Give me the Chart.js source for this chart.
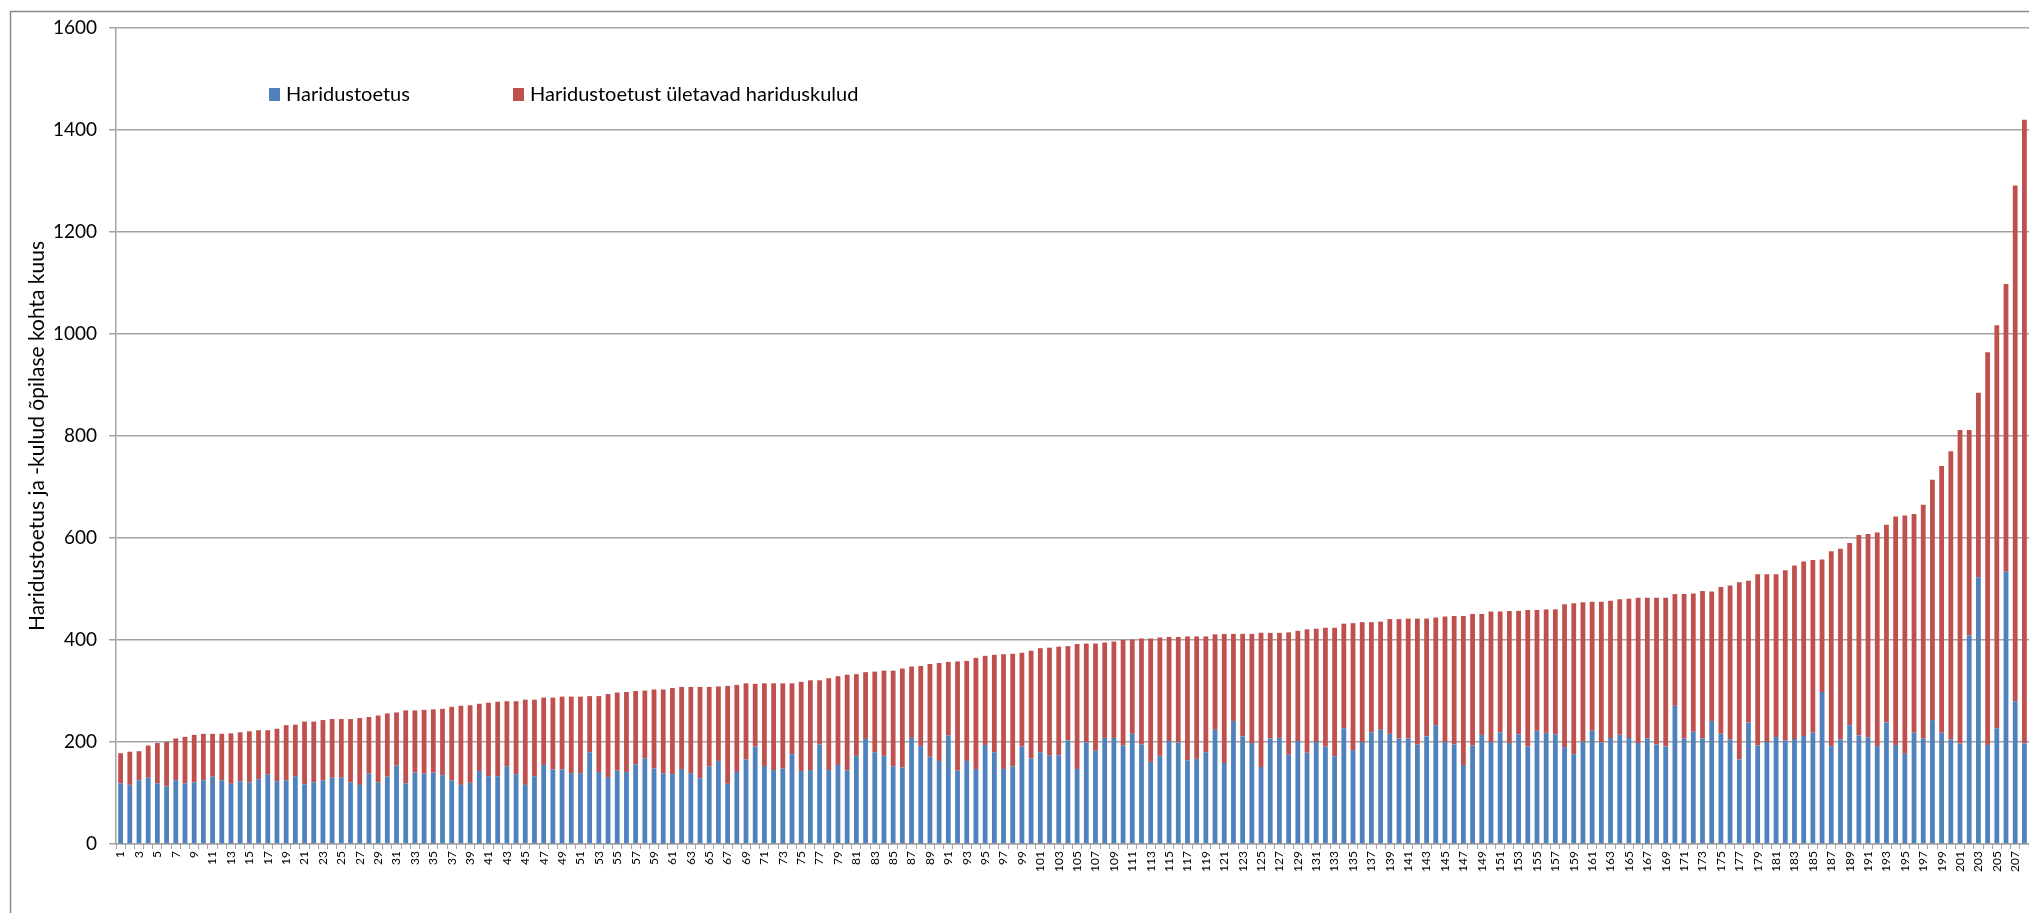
<!DOCTYPE html>
<html>
<head>
<meta charset="utf-8">
<script src="https://cdn.jsdelivr.net/npm/chart.js@4.4.1/dist/chart.umd.min.js"></script>
<style>
  html, body { margin: 0; padding: 0; background: #fff; overflow: hidden; }
  #wrap { width: 2029px; height: 913px; }
</style>
</head>
<body>
<div id="wrap"><canvas id="canvasChart" width="2029" height="913"></canvas></div>
<script>
var canvasChartId = "canvasChart";

var categories = ["1","2","3","4","5","6","7","8","9","10","11","12","13","14","15","16","17","18","19","20",
  "21","22","23","24","25","26","27","28","29","30","31","32","33","34","35","36","37","38","39","40",
  "41","42","43","44","45","46","47","48","49","50","51","52","53","54","55","56","57","58","59","60",
  "61","62","63","64","65","66","67","68","69","70","71","72","73","74","75","76","77","78","79","80",
  "81","82","83","84","85","86","87","88","89","90","91","92","93","94","95","96","97","98","99","100",
  "101","102","103","104","105","106","107","108","109","110","111","112","113","114","115","116","117","118","119","120",
  "121","122","123","124","125","126","127","128","129","130","131","132","133","134","135","136","137","138","139","140",
  "141","142","143","144","145","146","147","148","149","150","151","152","153","154","155","156","157","158","159","160",
  "161","162","163","164","165","166","167","168","169","170","171","172","173","174","175","176","177","178","179","180",
  "181","182","183","184","185","186","187","188","189","190","191","192","193","194","195","196","197","198","199","200",
  "201","202","203","204","205","206","207","208"];

// Haridustoetus (blue)
var haridustoetus = [119,116,125,130,119,113,125,119,121,125,132,125,118,123,121,127,136,123,125,133,
  117,121,125,130,130,121,116,138,121,132,154,119,140,138,140,135,125,116,120,143,
  133,133,152,137,116,133,155,146,146,139,139,180,141,131,144,141,156,168,148,138,
  137,147,139,129,152,163,118,141,166,191,153,145,148,176,143,145,195,145,155,144,
  173,206,180,173,152,150,208,192,171,163,213,144,163,147,194,180,147,152,191,168,
  180,174,174,203,147,199,183,208,208,193,216,195,161,173,202,199,164,167,180,224,
  159,241,211,198,151,207,208,175,202,179,200,191,172,227,184,200,219,224,216,207,
  207,195,211,233,200,195,155,193,214,200,219,198,215,191,222,218,215,190,176,201,
  222,199,208,214,208,198,207,195,191,271,207,220,207,241,216,205,166,238,193,200,
  210,203,206,212,218,298,192,205,233,213,209,192,238,194,177,218,207,243,218,205,
  197,409,523,194,227,534,280,197];

// Haridustoetust ületavad hariduskulud (red)
var yletavadKulud = [59,65,57,63,79,87,82,91,93,91,84,91,99,96,100,96,87,103,108,101,
  123,119,118,115,115,124,131,111,131,124,104,143,122,125,124,130,144,155,152,132,
  144,146,128,143,167,150,132,141,143,150,150,110,149,163,153,157,144,133,155,165,
  169,161,169,179,156,146,192,171,149,123,162,170,167,139,175,176,126,180,174,188,
  160,131,158,167,188,194,140,157,182,192,144,214,196,218,175,191,225,221,184,211,
  204,211,213,185,245,194,210,187,189,207,185,208,242,232,204,207,243,240,227,187,
  253,171,201,214,263,207,206,240,216,242,222,233,252,205,249,235,216,212,225,234,
  235,247,231,211,246,252,292,258,237,256,237,259,242,268,237,242,245,280,296,273,
  253,276,269,266,273,285,276,288,292,219,283,271,289,254,288,302,347,278,336,329,
  319,334,340,342,339,260,382,374,357,393,399,419,388,448,467,429,458,471,523,565,
  615,403,362,770,790,564,1011,1223];

var yTicks = [0, 200, 400, 600, 800, 1000, 1200, 1400, 1600];
var seriesNames = ["Haridustoetus", "Haridustoetust ületavad hariduskulud"];
var seriesColors = ["#4F81BD", "#C0504D"];
var yTitle = "Haridustoetus ja -kulud õpilase kohta kuus";

var gridColor = "#a3a3a3";

// white background + grey frame like the excel chart object
var framePlugin = {
  id: "frame",
  beforeDraw: function(chart) {
    var ctx = chart.ctx;
    ctx.save();
    ctx.fillStyle = "#ffffff";
    ctx.fillRect(0, 0, chart.width, chart.height);
    ctx.strokeStyle = "#8a8a8a";
    ctx.lineWidth = 1.5;
    ctx.strokeRect(10.5, 11.5, chart.width + 40, chart.height + 40);
    ctx.restore();
  }
};

// legend sits inside the plot, top left
var legendPlugin = {
  id: "insideLegend",
  afterDraw: function(chart) {
    var ctx = chart.ctx;
    var xs = [269, 513];
    ctx.save();
    ctx.font = "20px Lato";
    ctx.textBaseline = "middle";
    ctx.textAlign = "left";
    for (var i = 0; i < chart.data.datasets.length; i++) {
      var ds = chart.data.datasets[i];
      ctx.fillStyle = ds.backgroundColor;
      ctx.fillRect(xs[i], 88, 11, 13);
      ctx.fillStyle = "#000";
      ctx.fillText(ds.label, xs[i] + 17, 95);
    }
    ctx.restore();
  }
};

Chart.defaults.font.family = "Lato";
Chart.defaults.color = "#000";

var chart = new Chart(document.getElementById(canvasChartId), {
  type: "bar",
  data: {
    labels: categories,
    datasets: [{
      label: seriesNames[0],
      data: haridustoetus,
      backgroundColor: seriesColors[0],
      barPercentage: 0.52,
      categoryPercentage: 1
    }, {
      label: seriesNames[1],
      data: yletavadKulud,
      backgroundColor: seriesColors[1],
      barPercentage: 0.52,
      categoryPercentage: 1
    }]
  },
  options: {
    responsive: false,
    animation: false,
    devicePixelRatio: 1,
    layout: { padding: { top: 28, right: 0, bottom: 0, left: 0 } },
    plugins: {
      legend: { display: false },
      tooltip: { enabled: false }
    },
    scales: {
      x: {
        stacked: true,
        grid: { display: true, drawOnChartArea: false, offset: true, tickLength: 5, color: gridColor },
        border: { display: true, color: gridColor, width: 1.5 },
        ticks: {
          autoSkip: false,
          minRotation: 90,
          maxRotation: 90,
          padding: 2,
          font: { size: 12 },
          callback: function(value, index) {
            return index % 2 === 0 ? this.getLabelForValue(value) : "";
          }
        },
        afterFit: function(scale) {
          scale.height = 69;
          scale.paddingLeft = 0;
          scale.paddingRight = 0;
        }
      },
      y: {
        stacked: true,
        min: 0,
        max: 1600,
        afterBuildTicks: function(scale) {
          scale.ticks = yTicks.map(function(v) { return { value: v }; });
        },
        grid: { color: gridColor, lineWidth: 1.5, tickLength: 7 },
        border: { display: true, color: gridColor, width: 1.5 },
        ticks: {
          padding: 12,
          font: { size: 19 },
          callback: function(value) { return String(value); }
        },
        title: {
          display: true,
          text: yTitle,
          font: { size: 21 },
          padding: { top: 25, bottom: 0 }
        },
        afterFit: function(scale) {
          scale.width = 116;
          scale.paddingTop = 0;
          scale.paddingBottom = 0;
        }
      }
    }
  },
  plugins: [framePlugin, legendPlugin]
});
</script>
</body>
</html>
